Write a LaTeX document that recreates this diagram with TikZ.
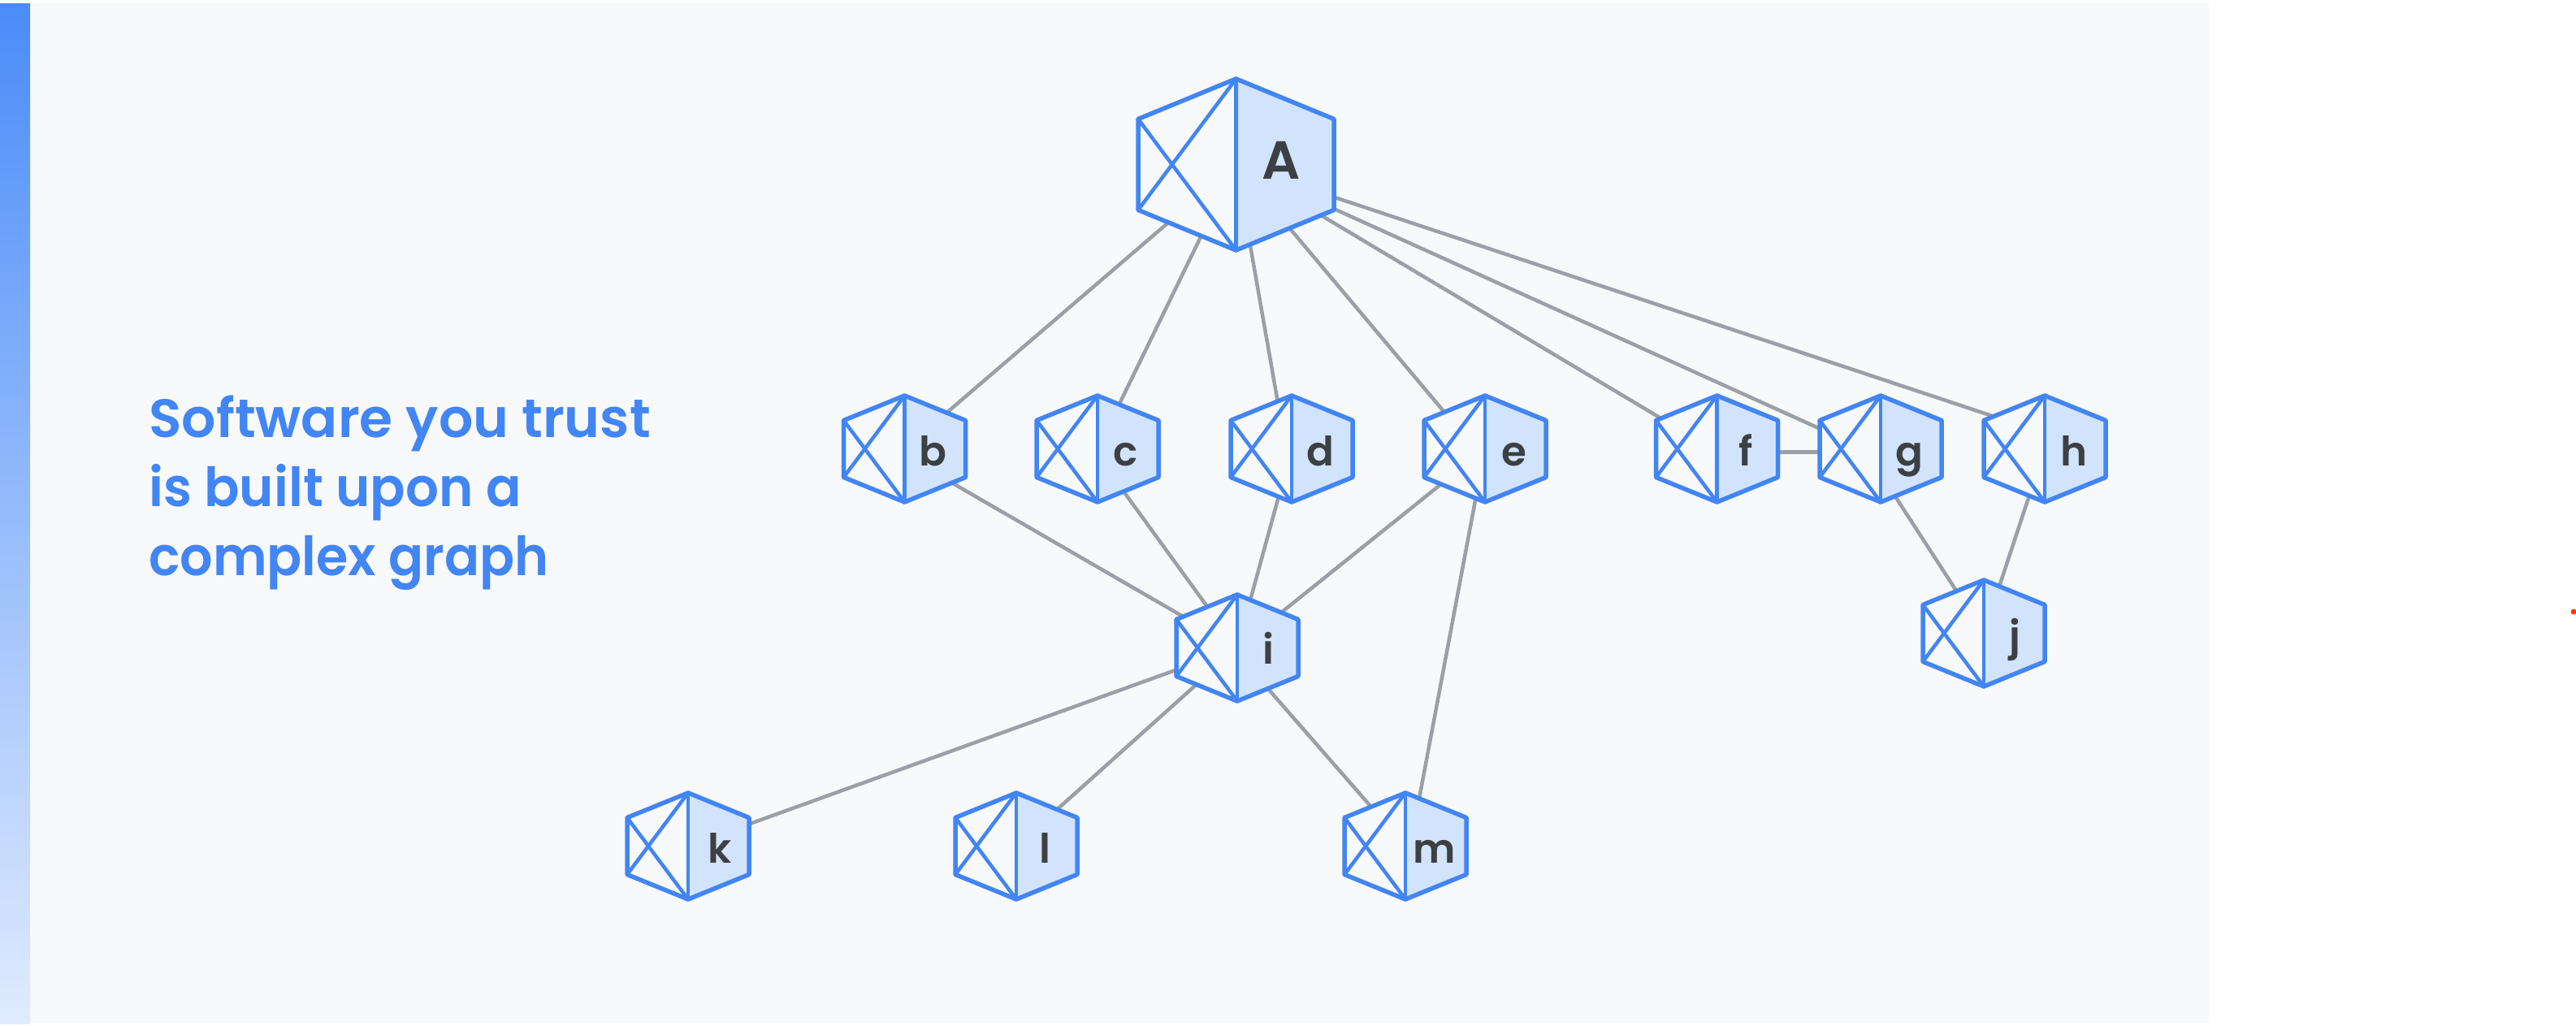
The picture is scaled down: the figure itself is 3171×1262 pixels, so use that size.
\documentclass[tikz,border=0pt]{standalone}
\usepackage{graphicx}
\usepackage{fontspec}
\setmainfont{Poppins}
\newfontfamily\headfont{Poppins SemiBold}
\usetikzlibrary{backgrounds}
\definecolor{gblue}{HTML}{4285F4}
\definecolor{gface}{HTML}{D2E3FC}
\definecolor{gpanel}{HTML}{F8F9FB}
\definecolor{ggrey}{HTML}{9AA0A6}
\definecolor{gtext}{HTML}{3C4043}
\definecolor{gtop}{HTML}{4A8CF9}
\definecolor{gbot}{HTML}{E0EBFE}
\definecolor{gdot}{HTML}{FF3D00}
\tikzset{
  anchorpt/.style={inner sep=0pt,minimum size=0pt,outer sep=0pt},
  hexline/.style={draw=gblue,line width=5.5pt,line join=round},
  hexcross/.style={draw=gblue,line width=4.5pt,line cap=round},
  edgeline/.style={draw=ggrey,line width=4.5pt},
  smalllabel/.style={anchor=base,text=gtext,inner sep=0pt,font=\headfont\fontsize{50}{50}\selectfont},
  biglabel/.style={anchor=base,text=gtext,inner sep=0pt,font=\headfont\fontsize{66}{66}\selectfont},
  heading/.style={anchor=north west,text=gblue,align=left,inner sep=0pt,font=\headfont\fontsize{66.5}{85}\selectfont}
}
% name, x, y, half width, half height, shoulder
\newcommand\hexa[6]{%
  \node[anchorpt] (#1) at (#2,#3) {};
  \fill[gpanel] (#2,#3-#5) -- (#2-#4,#3-#6) -- (#2-#4,#3+#6) -- (#2,#3+#5) -- cycle;
  \fill[gface] (#2,#3-#5) -- (#2+#4,#3-#6) -- (#2+#4,#3+#6) -- (#2,#3+#5) -- cycle;
  \draw[hexcross] (#2,#3-#5) -- (#2-#4,#3+#6);
  \draw[hexcross] (#2,#3+#5) -- (#2-#4,#3-#6);
  \draw[hexcross] (#2,#3-#5) -- (#2,#3+#5);
  \draw[hexline] (#2,#3-#5) -- (#2+#4,#3-#6) -- (#2+#4,#3+#6) -- (#2,#3+#5) -- (#2-#4,#3+#6) -- (#2-#4,#3-#6) -- cycle;
}
\newcommand\smallhex[3]{\hexa{#1}{#2}{#3}{75}{65.5}{35}}
\begin{document}
\begin{tikzpicture}[x=1pt,y=-1pt]
\useasboundingbox (0,0) rectangle (3171,1262);
\hexa{A}{1521.5}{202.5}{120.5}{105.5}{56}
\node[biglabel] (Al) at (1577,220) {A};
\smallhex{b}{1113.5}{552.5} \node[smalllabel] (bl) at (1148,573) {b};
\smallhex{c}{1351}{552.5} \node[smalllabel] (cl) at (1386,573) {c};
\smallhex{d}{1590}{552.5} \node[smalllabel] (dl) at (1625,573) {d};
\smallhex{e}{1828}{552.5} \node[smalllabel] (el) at (1864,573) {e};
\smallhex{f}{2113.5}{552.5} \node[smalllabel] (fl) at (2149,573) {f};
\smallhex{g}{2315}{552.5} \node[smalllabel] (gl) at (2350,573) {g};
\smallhex{h}{2517}{552.5} \node[smalllabel] (hl) at (2553,573) {h};
\smallhex{j}{2442}{779.5} \node[smalllabel] (jl) at (2480,800) {j};
\smallhex{i}{1523}{797.5} \node[smalllabel] (il) at (1561,817) {i};
\smallhex{k}{847}{1041.5} \node[smalllabel] (kl) at (886,1062) {k};
\smallhex{l}{1251}{1041.5} \node[smalllabel] (ll) at (1286,1062) {l};
\smallhex{m}{1730}{1041.5} \node[smalllabel] (ml) at (1766,1062) {m};
\node[heading] (title) at (183,486) {Software you trust\\\scalebox{.966}[1]{is built upon a}\\\scalebox{.957}[1]{complex graph}};
\fill[gdot] (3168,753) circle (3.5);
\begin{pgfonlayer}{background}
  \fill[gpanel] (37,4) rectangle (2719,1259);
  \shade[top color=gtop,bottom color=gbot] (0,4) rectangle (37,1260);
  \draw[edgeline] (A) -- (b);
  \draw[edgeline] (A) -- (c);
  \draw[edgeline] (A) -- ([shift={(-7,0)}]d.center);
  \draw[edgeline] (A) -- ([shift={(-12,0)}]e.center);
  \draw[edgeline] (A) -- ([shift={(-6,0)}]f.center);
  \draw[edgeline] (A) -- ([shift={(-20,0)}]g.center);
  \draw[edgeline] (A) -- ([shift={(0,-19)}]h.center);
  \draw[edgeline] ([shift={(-14,0)}]b.center) -- (i);
  \draw[edgeline] ([shift={(-6,0)}]c.center) -- (i);
  \draw[edgeline] (d) -- (i);
  \draw[edgeline] (e) -- (i);
  \draw[edgeline] (e) -- ([shift={(6,0)}]m.center);
  \draw[edgeline] ([shift={(0,4)}]f.center) -- ([shift={(0,4)}]g.center);
  \draw[edgeline] ([shift={(-20,0)}]g.center) -- (j);
  \draw[edgeline] (h) -- (j);
  \draw[edgeline] (i) -- (k);
  \draw[edgeline] (i) -- (l);
  \draw[edgeline] ([shift={(-6,0)}]i.center) -- (m);
\end{pgfonlayer}
\end{tikzpicture}
\end{document}
